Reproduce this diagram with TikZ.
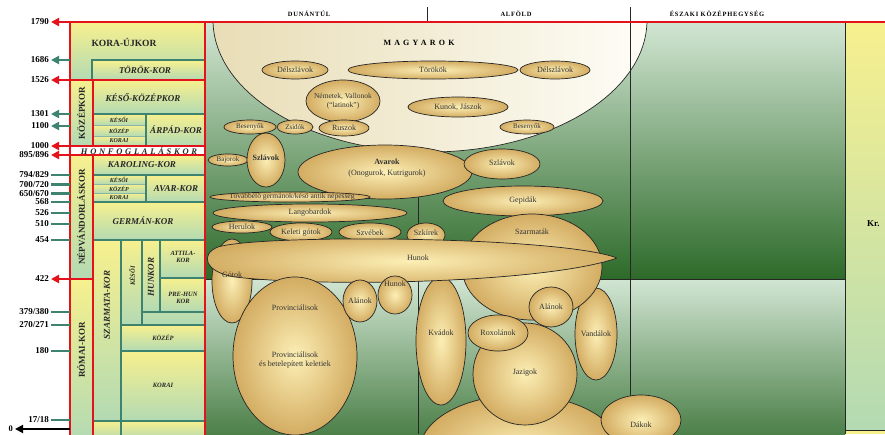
\documentclass[tikz,border=0pt]{standalone}
\usepackage{fontspec}
\setmainfont{Liberation Serif}
\usetikzlibrary{arrows.meta}
\definecolor{axred}{HTML}{E3121B}
\definecolor{axteal}{HTML}{3E8270}
\definecolor{cellY}{HTML}{F7F08E}
\definecolor{cellG}{HTML}{B3DAB3}
\definecolor{bgtop}{HTML}{D2E6D3}
\definecolor{bgbot}{HTML}{2D6A29}
\definecolor{tanin}{HTML}{FCEFB5}
\definecolor{tanout}{HTML}{D3AC62}
\definecolor{magL}{HTML}{E8DDB6}
\definecolor{magR}{HTML}{FEFDF7}
\begin{document}
\begin{tikzpicture}[x=1pt,y=-1pt,
  cell/.style={draw=axteal,line width=1.6pt,top color=cellY,bottom color=cellG},
  cellthin/.style={draw=axteal!60,line width=0.6pt,top color=cellY,bottom color=cellG},
  redl/.style={draw=axred,line width=2pt},
  tl/.style={draw=axteal,line width=2.2pt},
  tip/.style={-{Triangle[length=8pt,width=8pt]}},
  yr/.style={font=\fontsize{9}{9}\selectfont\bfseries,anchor=east,inner sep=2pt},
  era/.style={font=\fontsize{9}{9}\selectfont\bfseries\itshape,inner sep=0pt,text=black!85},
  eraup/.style={font=\fontsize{9}{9}\selectfont\bfseries,inner sep=0pt,text=black!85},
  sm/.style={font=\fontsize{6}{6}\selectfont\bfseries\itshape,inner sep=0pt,text=black!85},
  smx/.style={font=\fontsize{6.5}{7}\selectfont\bfseries\itshape,inner sep=0pt,align=center,text=black!85},
  honf/.style={font=\fontsize{8.5}{8.5}\selectfont\bfseries\itshape\addfontfeatures{LetterSpace=32},inner sep=0pt,text=black!85},
  hdr/.style={font=\fontsize{6.5}{7}\selectfont\bfseries\addfontfeatures{LetterSpace=12},inner sep=0pt},
  ell/.style={draw=black!85,line width=0.7pt,inner color=tanin,outer color=tanout},
  lab/.style={font=\fontsize{8}{8.5}\selectfont,inner sep=0pt,align=center,text=black!80},
  sep/.style={draw=black!85,line width=1pt}
]
\useasboundingbox (0,0) rectangle (885,434);
\fill[white] (0,0) rectangle (885,434);

% ---------- main area background ----------
\path[top color=bgtop,bottom color=bgbot] (206,22) rectangle (845,279);
\path[top color=bgtop,bottom color=bgbot!85!white] (206,279) rectangle (845,434);
\draw[sep] (206,279) -- (845,279);
\draw[sep] (418,22) -- (418,434);
\draw[sep] (845,22) -- (845,434);

% right strip
\path[top color=cellY,bottom color=cellG] (846,23) rectangle (885,430);
\fill[cellY] (846,431) rectangle (885,434);
\draw[sep] (845,430.5) -- (885,430.5);
\node[font=\fontsize{9}{9}\selectfont\bfseries,anchor=west,inner sep=0pt] (kr) at (867,224) {Kr.};

% ---------- ellipses ----------
\begin{scope}
\clip (206,23) rectangle (845,434);
\path[draw=black!85,line width=0.7pt,left color=magL,right color=magR] (430,20) ellipse [x radius=217pt,y radius=132pt];
\draw[sep] (630,22) -- (630,434);
\path[ell] (295,70) ellipse [x radius=33pt,y radius=9pt];
\path[ell] (433,70) ellipse [x radius=85pt,y radius=9pt];
\path[ell] (555,70) ellipse [x radius=35pt,y radius=9pt];
\path[ell] (343,101) ellipse [x radius=37pt,y radius=21pt];
\path[ell] (458,107) ellipse [x radius=50pt,y radius=10pt];
\path[ell] (250,127) ellipse [x radius=26pt,y radius=7pt];
\path[ell] (295,127) ellipse [x radius=18pt,y radius=7pt];
\path[ell] (344,128) ellipse [x radius=25pt,y radius=8pt];
\path[ell] (527,127) ellipse [x radius=27pt,y radius=7pt];
\path[ell] (228,160) ellipse [x radius=20pt,y radius=6pt];
\path[ell] (266,160) ellipse [x radius=19pt,y radius=27pt];
\path[ell] (385,172) ellipse [x radius=87pt,y radius=27pt];
\path[ell] (502,164) ellipse [x radius=38pt,y radius=15pt];
\path[ell] (523,201) ellipse [x radius=80pt,y radius=15pt];
\path[ell] (290,197) ellipse [x radius=80pt,y radius=5pt];
\path[ell] (310,213) ellipse [x radius=97pt,y radius=9pt];
\path[ell] (242,227) ellipse [x radius=30pt,y radius=6pt];
\path[ell] (301,232) ellipse [x radius=31pt,y radius=9pt];
\path[ell] (370,232) ellipse [x radius=31pt,y radius=9pt];
\path[ell] (426,235) ellipse [x radius=19pt,y radius=12pt];
\path[ell] (596,334) ellipse [x radius=21pt,y radius=46pt];
\path[ell] (532,267) ellipse [x radius=70pt,y radius=53pt];
\path[ell] (232,281) ellipse [x radius=20pt,y radius=42pt];
\path[ell] (441,341) ellipse [x radius=25pt,y radius=64pt];
\path[ell] (617,258) .. controls (560,236) and (260,234) .. (218,247) .. controls (200,254) and (204,272) .. (235,277) .. controls (330,288) and (550,282) .. (617,258);
\path[ell] (295,356) ellipse [x radius=62pt,y radius=79pt];
\path[ell] (360,301) ellipse [x radius=17pt,y radius=21pt];
\path[ell] (395,295) ellipse [x radius=17pt,y radius=19pt];
\path[ell] (520,450) ellipse [x radius=100pt,y radius=55pt];
\path[ell] (525,374) ellipse [x radius=52pt,y radius=51pt];
\path[ell] (498,333) ellipse [x radius=30pt,y radius=18pt];
\path[ell] (551,307) ellipse [x radius=22pt,y radius=20pt];
\path[ell] (641,420) ellipse [x radius=40pt,y radius=25pt];
\end{scope}

% ---------- ellipse labels ----------
\node[font=\fontsize{8}{8}\selectfont\bfseries\addfontfeatures{LetterSpace=40},inner sep=0pt] (magyarok) at (419,43) {MAGYAROK};
\node[lab] (delszl1) at (295,70) {Délszlávok};
\node[lab] (torokok) at (433,70) {Törökök};
\node[lab] (delszl2) at (555,70) {Délszlávok};
\node[lab,font=\fontsize{7.5}{9}\selectfont] (nemetek) at (343,101) {Németek, Vallonok\\(“latinok”)};
\node[lab] (kunok) at (458,107) {Kunok, Jászok};
\node[lab,font=\fontsize{7}{7}\selectfont] (besenyok1) at (250,127) {Besenyők};
\node[lab,font=\fontsize{7}{7}\selectfont] (zsidok) at (295,127) {Zsidók};
\node[lab] (ruszok) at (344,128) {Ruszok};
\node[lab,font=\fontsize{7}{7}\selectfont] (besenyok2) at (527,127) {Besenyők};
\node[lab,font=\fontsize{7}{7}\selectfont] (bajorok) at (228,160) {Bajorok};
\node[lab,font=\fontsize{8}{8}\selectfont\bfseries] (szlavok1) at (266,158) {Szlávok};
\node[lab,font=\fontsize{8}{10.5}\selectfont] (avarok) at (387,168) {\textbf{Avarok}\\(Onogurok, Kutrigurok)};
\node[lab] (szlavok2) at (502,163) {Szlávok};
\node[lab] (gepidak) at (523,201) {Gepidák};
\node[lab,font=\fontsize{7.5}{7.5}\selectfont] (tovabbelo) at (292,197) {Továbbélő germánok/késő antik népesség};
\node[lab] (langobardok) at (310,213) {Langobardok};
\node[lab] (herulok) at (242,227) {Herulok};
\node[lab] (keleti) at (301,233) {Keleti gótok};
\node[lab] (szvebek) at (370,233) {Szvébek};
\node[lab] (szkirek) at (426,233) {Szkírek};
\node[lab] (szarmatak) at (532,232) {Szarmaták};
\node[lab] (hunok1) at (418,258) {Hunok};
\node[lab] (gotok) at (232,275) {Gótok};
\node[lab] (prov1) at (295,308) {Provinciálisok};
\node[lab,font=\fontsize{8}{9}\selectfont] (prov2) at (295,360) {Provinciálisok\\és betelepített keletiek};
\node[lab] (alanok1) at (360,301) {Alánok};
\node[lab] (hunok2) at (395,284) {Hunok};
\node[lab] (kvadok) at (441,333) {Kvádok};
\node[lab] (roxolanok) at (498,333) {Roxolánok};
\node[lab] (alanok2) at (551,307) {Alánok};
\node[lab] (vandalok) at (596,334) {Vandálok};
\node[lab] (jazigok) at (525,373) {Jazigok};
\node[lab] (dakok) at (641,425) {Dákok};

% ---------- header ----------
\node[hdr] (dunantul) at (309,14) {DUNÁNTÚL};
\node[hdr] (alfold) at (516,14) {ALFÖLD};
\node[hdr] (eszaki) at (717,14) {ÉSZAKI KÖZÉPHEGYSÉG};
\draw[sep] (427,7) -- (427,22);
\draw[sep] (630,7) -- (630,22);

% ---------- period column ----------
\path[cell] (70,22) rectangle (205,80);
\path[cell] (92,60) rectangle (205,80);
\path[cell] (70,80) rectangle (93,146);
\path[cell] (93,80) rectangle (205,114);
\path[cellthin] (93,114) rectangle (146,125);
\path[cellthin] (93,125) rectangle (146,136);
\path[cellthin] (93,136) rectangle (146,146);
\draw[tl] (93,114) -- (205,114);
\draw[tl] (146,114) -- (146,146);
\path[cell] (146,114) rectangle (205,146);
\fill[white] (70,146) rectangle (205,155);
\path[cell] (70,155) rectangle (93,279);
\path[cell] (93,155) rectangle (205,175);
\path[cellthin] (93,175) rectangle (146,184);
\path[cellthin] (93,184) rectangle (146,193);
\path[cellthin] (93,193) rectangle (146,202);
\draw[tl] (93,175) -- (205,175);
\draw[tl] (146,175) -- (146,202);
\path[cell] (146,175) rectangle (205,202);
\path[cell] (93,202) rectangle (205,240);
\path[cell] (93,240) rectangle (121,421);
\path[cell] (121,240) rectangle (205,325);
\path[cell] (121,240) rectangle (142,325);
\path[cell] (142,240) rectangle (160,312);
\path[cell] (160,240) rectangle (205,278);
\path[cell] (160,278) rectangle (205,312);
\path[cell] (121,325) rectangle (205,351);
\path[cell] (121,351) rectangle (205,421);
\path[cell] (93,421) rectangle (121,440);
\path[cell] (121,421) rectangle (205,440);
\path[cell] (70,279) rectangle (93,440);

% red frame
\draw[redl] (70,22) -- (70,436);
\draw[redl] (205,21) -- (205,436);
\draw[redl] (93,80) -- (93,146);
\draw[redl] (93,155) -- (93,436);
\draw[redl] (70,22) -- (885,22);
\draw[redl] (70,80) -- (205,80);
\draw[redl] (70,146) -- (205,146);
\draw[redl] (70,155) -- (205,155);
\draw[redl] (70,279) -- (93,279);

% column texts
\node[eraup,font=\fontsize{9.5}{9.5}\selectfont\bfseries] (koraujkor) at (124,42) {KORA-ÚJKOR};
\node[era] (torokkor) at (145,70) {TÖRÖK-KOR};
\node[eraup,rotate=90] (kozepkor) at (81,113) {KÖZÉPKOR};
\node[era] (kesokozepkor) at (143,98) {KÉSŐ-KÖZÉPKOR};
\node[sm] (k1a) at (119,119.5) {KÉSŐI};
\node[sm] (k1b) at (119,130.5) {KÖZÉP};
\node[sm] (k1c) at (119,141) {KORAI};
\node[era] (arpad) at (176,130) {ÁRPÁD-KOR};
\node[honf] (honf) at (139,151) {HONFOGLALÁSKOR};
\node[eraup,rotate=90] (nepv) at (81,217) {NÉPVÁNDORLÁSKOR};
\node[era] (karoling) at (142,165) {KAROLING-KOR};
\node[sm] (k2a) at (119,179.5) {KÉSŐI};
\node[sm] (k2b) at (119,188.5) {KÖZÉP};
\node[sm] (k2c) at (119,197.5) {KORAI};
\node[era] (avarkor) at (176,189) {AVAR-KOR};
\node[era] (german) at (143,221) {GERMÁN-KOR};
\node[era,rotate=90] (szarmkor) at (107,305) {SZARMATA-KOR};
\node[smx,rotate=90] (keso3) at (132,276) {KÉSŐI};
\node[era,rotate=90] (hunkor) at (151,277) {HUNKOR};
\node[smx] (attila) at (183,257) {ATTILA-\\KOR};
\node[smx] (prehun) at (183,298) {PRE-HUN\\KOR};
\node[sm,font=\fontsize{6.5}{6.5}\selectfont\bfseries\itshape] (kozep4) at (163,338) {KÖZÉP};
\node[sm,font=\fontsize{6.5}{6.5}\selectfont\bfseries\itshape] (korai4) at (163,385) {KORAI};
\node[eraup,rotate=90] (romai) at (81,350) {RÓMAI-KOR};

% ---------- time axis ----------
\coordinate (r1790) at (70,22);  \node[yr] (l1790) at (51,22) {1790};
\draw[redl,tip] (r1790) -- (l1790);
\coordinate (r1526) at (70,80);  \node[yr] (l1526) at (51,80) {1526};
\draw[redl,tip] (r1526) -- (l1526);
\coordinate (r1000) at (70,146); \node[yr] (l1000) at (51,146) {1000};
\draw[redl,tip] (r1000) -- (l1000);
\coordinate (r895) at (70,155);  \node[yr] (l895) at (51,155) {895/896};
\draw[redl,tip] (r895) -- (l895);
\coordinate (r422) at (70,279);  \node[yr] (l422) at (51,279) {422};
\draw[redl,tip] (r422) -- (l422);

\coordinate (t1686) at (70,60);  \node[yr] (l1686) at (51,60) {1686};
\draw[tl,tip] (t1686) -- (l1686);
\coordinate (t1301) at (70,114); \node[yr] (l1301) at (51,114) {1301};
\draw[tl,tip] (t1301) -- (l1301);
\coordinate (t1100) at (70,126); \node[yr] (l1100) at (51,126) {1100};
\draw[tl,tip] (t1100) -- (l1100);

\coordinate (t794) at (70,175); \node[yr] (l794) at (51,175) {794/829};
\draw[tl] (t794) -- (l794);
\coordinate (t700) at (70,184.5); \node[yr] (l700) at (51,184.5) {700/720};
\draw[tl] (t700) -- (l700);
\coordinate (t650) at (70,193.5); \node[yr] (l650) at (51,193.5) {650/670};
\draw[tl] (t650) -- (l650);
\coordinate (t568) at (70,202); \node[yr] (l568) at (51,202) {568};
\draw[tl] (t568) -- (l568);
\coordinate (t526) at (70,213); \node[yr] (l526) at (51,213) {526};
\draw[tl] (t526) -- (l526);
\coordinate (t510) at (70,224); \node[yr] (l510) at (51,224) {510};
\draw[tl] (t510) -- (l510);
\coordinate (t454) at (70,240); \node[yr] (l454) at (51,240) {454};
\draw[tl] (t454) -- (l454);
\coordinate (t379) at (70,312); \node[yr] (l379) at (51,312) {379/380};
\draw[tl] (t379) -- (l379);
\coordinate (t270) at (70,325); \node[yr] (l270) at (51,325) {270/271};
\draw[tl] (t270) -- (l270);
\coordinate (t180) at (70,351); \node[yr] (l180) at (51,351) {180};
\draw[tl] (t180) -- (l180);
\coordinate (t17) at (70,420); \node[yr] (l17) at (51,420) {17/18};
\draw[tl] (t17) -- (l17);
\coordinate (b0) at (70,429); \node[yr,font=\fontsize{8.5}{8.5}\selectfont\bfseries] (l0) at (15,429) {0};
\draw[black,line width=1.8pt,tip] (b0) -- (l0);
\end{tikzpicture}
\end{document}
